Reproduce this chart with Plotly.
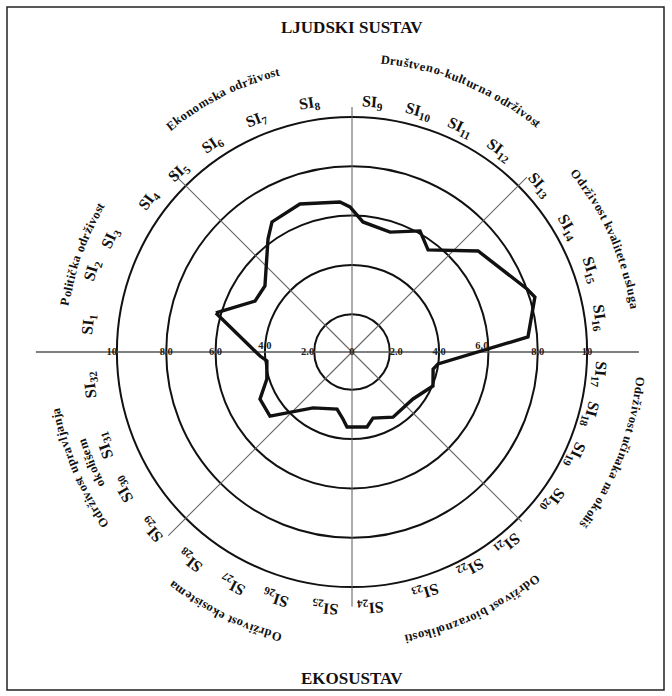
import math
import plotly.graph_objects as go

# ---------------- data ----------------
# profile: angle of each vertex (deg, counter-clockwise from east) and value (0-10 scale)
profile_theta = [164.0, 152.3, 142.8, 126.6, 121.6, 109.4, 94.6, 90.8, 85.2, 72.4, 60.7, 53.3,
                 38.7, 19.8, 16.7, 4.9, -7.9, -11.9, -22.8, -37.6, -57.8, -72.4, -78.7, -93.8,
                 -97.7, -104.7, -124.9, -142.0, -152.9, -162.4, -174.0, -177.5]
profile_values = [6.21, 4.91, 4.90, 6.18, 6.66, 6.83, 6.57, 6.35, 5.76, 5.57, 6.10, 5.63,
                  7.02, 8.01, 8.21, 7.63, 3.99, 3.83, 4.03, 3.59, 3.59, 3.28, 3.57, 3.52,
                  3.21, 2.86, 3.23, 4.69, 4.66, 4.09, 3.94, 4.20]

ring_values = [2, 4, 6, 8, 10]
ring_labels = ["2.0", "4.0", "6.0", "8.0", "10"]
center_label = "0"

indicator_labels = ["SI<sub>%d</sub>" % i for i in range(1, 33)]
group_labels = [["Politička održivost"], ["Ekonomska održivost"], ["Društveno-kulturna održivost"],
                ["Održivost kvalitete usluga"], ["Održivost učinaka na okoliš"],
                ["Održivost bioraznolikosti"], ["Održivost ekosistema"],
                ["Održivost upravljanja", "okolišem"]]
top_title = "LJUDSKI SUSTAV"
bottom_title = "EKOSUSTAV"

# ---------------- geometry / style ----------------
W, H = 672, 696
CX, CY = 352, 352          # centre of polar in px (from top-left)
RMIN, RMAX = 0.47, 13.3
PXU = 24.67                # px per unit
R_PX = PXU * (RMAX - RMIN)
FONT = "Liberation Serif"

sep_angles = [180, 135, 90, 45, 0, -45, -90, -135]
sep_extent = [13.3, 10.8, 10.4, 10.5, 12.1, 10.2, 10.8, 11.0]

# label placement (screen angle in deg, radius in px)
SI_PHI = [174, 162.6, 154.8, 143.3, 134, 124, 112.3, 99.6, 85.4, 74.6, 64.3, 53.8, 41.6, 29.9,
          19, 7.8, -5.3, -14.8, -24.8, -36.4, -51.2, -61.4, -73, -86, -96, -107.4, -117.2,
          -127.9, -138.6, -149, -159.4, -172.8]
SI_RAD = [265, 272, 267, 254, 250, 250, 251, 252, 250, 249, 249, 250, 251, 249, 252, 250,
          249, 246, 246, 250, 247, 246, 251, 256, 257, 258, 262, 264, 268, 267, 264, 264]
G_PHI = [160, 117, 67.4, 24, -21, -65, -116, -157]
G_RAD = [[291], [290], [294], [286], [289], [292], [294], [302, 284]]

# Times-Bold advance widths (per 1000 em) for arc text layout
ADV = {" ": 250, "a": 500, "b": 556, "c": 444, "d": 556, "e": 444, "f": 333, "g": 500, "h": 556,
       "i": 278, "j": 333, "k": 556, "l": 278, "m": 833, "n": 556, "o": 500, "p": 556, "q": 556,
       "r": 444, "s": 389, "t": 333, "u": 556, "v": 500, "w": 722, "x": 500, "y": 500, "z": 444,
       "ž": 444, "š": 389, "č": 444, "ć": 444, "P": 611, "E": 667, "D": 722, "O": 778, "-": 333}

fig = go.Figure()

# separator / axis lines
for a, e in zip(sep_angles, sep_extent):
    horiz = a in (0, 180)
    fig.add_trace(go.Scatterpolar(r=[RMIN, e], theta=[a, a], mode="lines",
                                  line=dict(color="#555555" if horiz else "#666666",
                                            width=1.6 if horiz else 1.1),
                                  hoverinfo="skip", showlegend=False))

# profile line
fig.add_trace(go.Scatterpolar(r=profile_values + profile_values[:1],
                              theta=profile_theta + profile_theta[:1],
                              mode="lines", line=dict(color="#111111", width=3.4),
                              showlegend=False))

# radial tick labels on both sides
left_pos = {"2.0": "middle left", "4.0": "top center", "6.0": "middle center",
            "8.0": "middle center", "10": "middle left"}
right_pos = {"2.0": "middle right", "4.0": "middle center", "6.0": "top left",
             "8.0": "middle center", "10": "middle center"}
tfont = dict(family=FONT, size=10.5, color="#222222")
fig.add_trace(go.Scatterpolar(r=ring_values, theta=[180] * len(ring_values), mode="text",
                              text=["<b>%s</b>" % t for t in ring_labels],
                              textposition=[left_pos[t] for t in ring_labels],
                              textfont=tfont, showlegend=False, hoverinfo="skip"))
fig.add_trace(go.Scatterpolar(r=ring_values, theta=[0] * len(ring_values), mode="text",
                              text=["<b>%s</b>" % t for t in ring_labels],
                              textposition=[right_pos[t] for t in ring_labels],
                              textfont=tfont, showlegend=False, hoverinfo="skip"))
fig.add_trace(go.Scatterpolar(r=[RMIN], theta=[0], mode="text", text=["<b>%s</b>" % center_label],
                              textposition="middle center", textfont=tfont,
                              showlegend=False, hoverinfo="skip"))


def to_paper(rp, phi):
    x = CX + rp * math.cos(math.radians(phi))
    y = CY - rp * math.sin(math.radians(phi))
    return x / W, 1 - y / H


def tangent_angle(phi):
    t = 90 - phi
    while t > 180:
        t -= 360
    while t <= -180:
        t += 360
    return t


annotations = []
for lab, phi, rp in zip(indicator_labels, SI_PHI, SI_RAD):
    x, y = to_paper(rp, phi)
    annotations.append(dict(x=x, y=y, xref="paper", yref="paper", text="<b>%s</b>" % lab,
                            showarrow=False, textangle=tangent_angle(phi),
                            xanchor="center", yanchor="middle",
                            font=dict(family=FONT, size=16, color="#111111")))

# group names written along arcs, character by character
GSIZE = 12.5
SPACING = 1.1
for lines, phi_c, radii in zip(group_labels, G_PHI, G_RAD):
    for line, rp in zip(lines, radii):
        widths = [ADV.get(ch, 500) / 1000 * GSIZE * SPACING for ch in line]
        total = sum(widths)
        s = -total / 2
        for ch, w in zip(line, widths):
            mid = s + w / 2
            s += w
            if ch == " ":
                continue
            phi = phi_c - math.degrees(mid / rp)
            x, y = to_paper(rp, phi)
            annotations.append(dict(x=x, y=y, xref="paper", yref="paper", text="<b>%s</b>" % ch,
                                    showarrow=False, textangle=tangent_angle(phi),
                                    xanchor="center", yanchor="middle",
                                    font=dict(family=FONT, size=GSIZE, color="#111111")))

annotations.append(dict(x=CX / W, y=1 - 27 / H, xref="paper", yref="paper",
                        text="<b>%s</b>" % top_title, showarrow=False,
                        xanchor="center", yanchor="middle",
                        font=dict(family=FONT, size=17, color="#111111")))
annotations.append(dict(x=CX / W, y=1 - 678 / H, xref="paper", yref="paper",
                        text="<b>%s</b>" % bottom_title, showarrow=False,
                        xanchor="center", yanchor="middle",
                        font=dict(family=FONT, size=17, color="#111111")))

fig.update_layout(
    width=W, height=H,
    margin=dict(l=0, r=0, t=0, b=0),
    paper_bgcolor="white", plot_bgcolor="white",
    showlegend=False,
    polar=dict(
        domain=dict(x=[(CX - R_PX) / W, (CX + R_PX) / W],
                    y=[(H - CY - R_PX) / H, (H - CY + R_PX) / H]),
        bgcolor="rgba(0,0,0,0)",
        radialaxis=dict(range=[RMIN, RMAX], tickvals=ring_values, showticklabels=False,
                        ticks="", showline=False, showgrid=True, gridcolor="#111111",
                        gridwidth=1.7),
        angularaxis=dict(showgrid=False, showline=False, showticklabels=False, ticks=""),
    ),
    annotations=annotations,
    shapes=[dict(type="rect", xref="paper", yref="paper",
                 x0=7 / W, x1=664 / W, y0=1 - 690 / H, y1=1 - 7 / H,
                 line=dict(color="#222222", width=1.5))],
)

fig.write_html("out.html", config={"displayModeBar": False},
               post_script="document.body.style.margin='0px';")
